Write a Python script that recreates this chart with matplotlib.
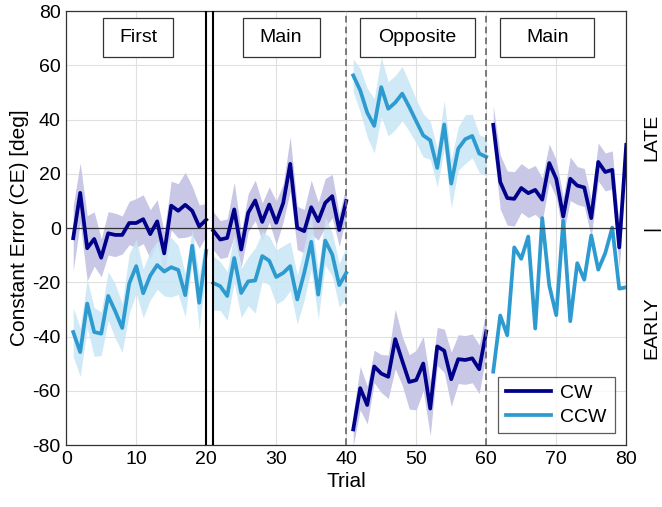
import numpy as np
import matplotlib
matplotlib.use("Agg")
import matplotlib.pyplot as plt
from matplotlib.patches import Rectangle

plt.rcParams['font.family'] = ['Liberation Sans', 'DejaVu Sans']
plt.rcParams['axes.unicode_minus'] = False

# trials 1..80, four blocks of 20
trials = np.arange(1, 81)

cw_mean = [-3.7, 13, -7.4, -4, -10.9, -1.9, -2.5, -2.5, 1.9, 1.9,
           3.3, -2.2, 2.5, -9.3, 8.3, 6.4, 8.6, 6.4, 0.6, 3.1,
           -0.9, -4.2, -3.6, 6.9, -7.9, 5.7, 10.2, 2.3, 8.7, 2.0,
           9.3, 23.7, 0.1, -1.1, 7.7, 2.6, 9.3, 11.8, -0.7, 10.0,
           -74.2, -59, -65.2, -51, -53.6, -54.8, -40.9, -48.9, -56.7, -56,
           -49.9, -66.5, -43.6, -45.2, -55.7, -48.3, -48.6, -48, -52, -38.1,
           38.1, 17, 11.1, 10.8, 14.8, 12.9, 14.1, 10.5, 24, 18.2,
           4.3, 18.2, 15.7, 15, 3.7, 24.4, 20.7, 21.5, -7.1, 30.7]
cw_err = [12, 11, 12, 10, 7, 8, 8, 7, 8, 9, 9, 9, 8, 8, 9, 10, 12, 9, 8, 6,
          7, 7, 7, 10, 6.5, 7, 7.5, 7, 6.5, 8, 7, 10, 8, 8, 10, 7, 9, 8, 6, 5.5,
          6, 8, 7, 6, 7, 8, 11, 9, 10, 11, 10, 10, 7, 8, 10, 9, 9, 9, 9, 8,
          7, 10, 10, 10, 9, 9, 9, 8, 7, 7, 7, 8, 7, 7, 7, 7, 7, 7, 8, 8]

ccw_mean = [-38.3, -45.7, -27.8, -38.3, -38.9, -25, -30.6, -36.8, -20.4, -14,
            -24, -17.5, -13.6, -16, -14.4, -15.4, -24.7, -6.5, -27.5, -8.4,
            -20.2, -21.4, -25, -11, -23.9, -19.6, -19.3, -10.3, -12, -18,
            -16.5, -14, -26.3, -16.5, -5, -24.5, -4.6, -9.7, -21, -16.5,
            56.3, 50.8, 42.6, 37.7, 52, 44, 46.3, 49.6, 44.7, 39.4,
            34.2, 32.4, 22.2, 38.2, 16.4, 29.3, 32.8, 34, 27.5, 26.3,
            -52.9, -32.2, -39.5, -7.1, -11.3, -3.1, -37, 3.7, -21.1, -32.1,
            2.7, -34.3, -12.9, -19, -2.7, -15.3, -9.2, 0.2, -22.3, -21.8]
# last block of CCW has no shaded error
ccw_err = [9, 9, 9, 9, 8, 9, 10, 9, 11, 10, 9, 9, 9, 9, 11, 9, 8, 6, 10, 7,
           10, 9, 9, 9, 9, 9, 12, 9, 9, 10, 10, 9, 9, 10, 10, 9, 9, 8, 8, 9.5,
           6, 8, 9, 10, 11, 10, 10, 10, 9, 8, 8, 7, 7, 9, 9, 8, 9, 8, 7, 7] + [np.nan] * 20

phases = ["First", "Main", "Opposite", "Main"]
phase_box_x = [(5.2, 15.3), (25.2, 36.2), (42.0, 58.4), (62.0, 75.4)]

cw_color = '#00008B'
ccw_color = '#2E9BD0'
cw_fill = '#C9C7E6'
ccw_fill = '#C8E6F5'

cw_mean = np.array(cw_mean)
cw_err = np.array(cw_err)
ccw_mean = np.array(ccw_mean)
ccw_err = np.array(ccw_err, dtype=float)

fig = plt.figure(figsize=(6.62, 5.07), dpi=100)
ax = fig.add_axes([0.1, 0.122, 0.846, 0.856])

for b in range(4):
    s = slice(b * 20, b * 20 + 20)
    t = trials[s]
    ax.fill_between(t, cw_mean[s] - cw_err[s], cw_mean[s] + cw_err[s],
                    color=cw_fill, lw=0, zorder=2)
    if not np.all(np.isnan(ccw_err[s])):
        ax.fill_between(t, ccw_mean[s] - ccw_err[s], ccw_mean[s] + ccw_err[s],
                        color=ccw_fill, lw=0, alpha=0.85, zorder=2)
for b in range(4):
    s = slice(b * 20, b * 20 + 20)
    t = trials[s]
    ax.plot(t, cw_mean[s], color=cw_color, lw=2.7, zorder=4,
            label='CW' if b == 0 else None)
    ax.plot(t, ccw_mean[s], color=ccw_color, lw=2.7, zorder=3,
            label='CCW' if b == 0 else None)

ax.axhline(0, color='#333333', lw=0.9, zorder=3)
ax.axvline(20, color='black', lw=1.5, zorder=5)
ax.axvline(21, color='black', lw=1.5, zorder=5)
ax.axvline(40, color='#666666', lw=1.2, ls=(0, (4, 2.5)), zorder=5)
ax.axvline(60, color='#666666', lw=1.2, ls=(0, (4, 2.5)), zorder=5)

ax.set_xlim(0, 80)
ax.set_ylim(-80, 80)
ax.set_xticks(range(0, 81, 10))
ax.set_yticks(range(-80, 81, 20))
ax.grid(True, color='#E0E0E0', lw=0.8, zorder=0)
ax.set_axisbelow(True)
ax.tick_params(labelsize=14, length=0, pad=4)
for sp in ax.spines.values():
    sp.set_color('#333333')
    sp.set_linewidth(0.9)

ax.set_xlabel('Trial', fontsize=15, labelpad=3)
ax.set_ylabel('Constant Error (CE) [deg]', fontsize=15, labelpad=2)

for name, (x0, x1) in zip(phases, phase_box_x):
    ax.add_patch(Rectangle((x0, 63.1), x1 - x0, 14.5, facecolor='white',
                           edgecolor='#333333', lw=0.9, zorder=6))
    ax.text((x0 + x1) / 2, 70.3, name, ha='center', va='center',
            fontsize=14, zorder=7)

# right side labels
ax.text(1.045, 0.71, 'LATE', transform=ax.transAxes, rotation=90,
        ha='center', va='center', fontsize=14)
ax.text(1.045, 0.5, '|', transform=ax.transAxes, rotation=90,
        ha='center', va='center', fontsize=14)
ax.text(1.045, 0.27, 'EARLY', transform=ax.transAxes, rotation=90,
        ha='center', va='center', fontsize=14)

leg = ax.legend(loc='lower right', fontsize=14, handlelength=2.3,
                frameon=True, fancybox=False, borderaxespad=0.6,
                handletextpad=0.5, borderpad=0.4, labelspacing=0.3)
leg.get_frame().set_edgecolor('#333333')
leg.get_frame().set_linewidth(0.9)
for line in leg.get_lines():
    line.set_linewidth(2.7)
leg.set_zorder(8)

fig.savefig('out.png', dpi=100)
